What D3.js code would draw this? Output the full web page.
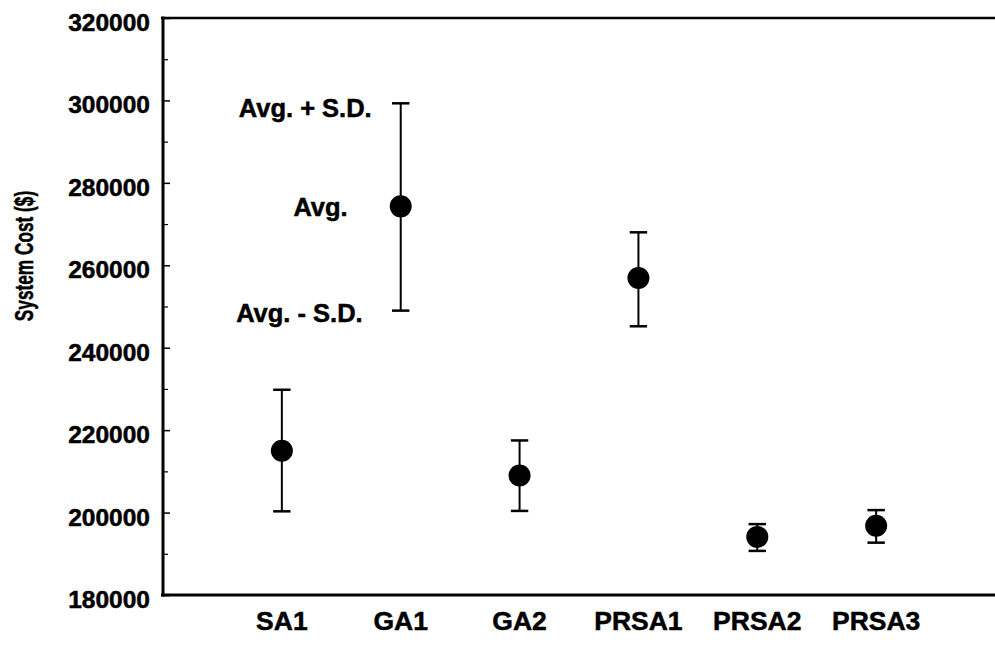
<!DOCTYPE html>
<html>
<head>
<meta charset="utf-8">
<script src="https://cdn.jsdelivr.net/npm/d3@7"></script>
<style>
  html, body { margin: 0; padding: 0; background: #fff; }
  svg { display: block; }
  text { font-family: "Liberation Sans", Arial, Helvetica, sans-serif; font-weight: bold; fill: #000; stroke: #000; stroke-width: 0.5px; }
</style>
</head>
<body>
<svg id="chart" width="995" height="647"></svg>
<script>
const categories = ["SA1", "GA1", "GA2", "PRSA1", "PRSA2", "PRSA3"];
const avgValues   = [215000, 274300, 209000, 256900, 194100, 196800];
const upperValues = [229800, 299300, 217500, 268000, 197200, 200600];
const lowerValues = [200300, 249000, 200400, 245200, 190700, 192700];
const yTicks = [180000, 200000, 220000, 240000, 260000, 280000, 300000, 320000];
const yMinorTicks = [190000, 210000, 230000, 250000, 270000, 290000, 310000];
const annotations = ["Avg. + S.D.", "Avg.", "Avg. - S.D."];

const mLeft = 163, mRight = 995, mTop = 18, mBottom = 595;

const svg = d3.select("#chart");

const x = d3.scalePoint().domain(categories).range([mLeft, mRight]).padding(1);
const y = d3.scaleLinear().domain([180000, 320000]).range([mBottom, mTop]);

// frame lines
svg.append("line").attr("x1", mLeft - 2).attr("x2", mRight).attr("y1", mTop).attr("y2", mTop)
  .attr("stroke", "#000").attr("stroke-width", 2.5);
svg.append("line").attr("x1", mLeft - 2).attr("x2", mRight).attr("y1", mBottom).attr("y2", mBottom)
  .attr("stroke", "#000").attr("stroke-width", 3);

// y axis
const yAxis = d3.axisRight(y).tickValues(yTicks).tickSize(7).tickFormat("");
const gy = svg.append("g").attr("transform", `translate(${mLeft},0)`).call(yAxis);
gy.select(".domain").remove();
gy.selectAll(".tick line").attr("stroke", "#000").attr("stroke-width", 1.5);
const yAxisMinor = d3.axisRight(y).tickValues(yMinorTicks).tickSize(5).tickFormat("");
const gym = svg.append("g").attr("transform", `translate(${mLeft},0)`).call(yAxisMinor);
gym.select(".domain").remove();
gym.selectAll(".tick line").attr("stroke", "#000").attr("stroke-width", 1.2);
svg.append("line").attr("x1", mLeft).attr("x2", mLeft).attr("y1", mTop - 1.5).attr("y2", mBottom + 1.5)
  .attr("stroke", "#000").attr("stroke-width", 3);

// y tick labels
svg.append("g").selectAll("text").data(yTicks).join("text")
  .attr("x", 150).attr("y", d => y(d) + 13)
  .attr("text-anchor", "end").attr("font-size", 24.5)
  .text(d => d3.format("d")(d));

// y axis title
svg.append("text")
  .attr("transform", "translate(33,256) rotate(-90) scale(0.69,1)")
  .attr("text-anchor", "middle").attr("font-size", 25)
  .text("System Cost ($)");

// x labels
svg.append("g").selectAll("text").data(categories).join("text")
  .attr("x", d => x(d)).attr("y", 630)
  .attr("text-anchor", "middle").attr("font-size", 26.5)
  .text(d => d);

// error bars
const data = categories.map((c, i) => ({ c, avg: avgValues[i], up: upperValues[i], lo: lowerValues[i] }));
const g = svg.append("g");
const capHalf = 8.7;
g.selectAll("line.err").data(data).join("line").attr("class", "err")
  .attr("x1", d => x(d.c)).attr("x2", d => x(d.c))
  .attr("y1", d => y(d.up)).attr("y2", d => y(d.lo))
  .attr("stroke", "#000").attr("stroke-width", 2);
g.selectAll("line.capu").data(data).join("line").attr("class", "capu")
  .attr("x1", d => x(d.c) - capHalf).attr("x2", d => x(d.c) + capHalf)
  .attr("y1", d => y(d.up)).attr("y2", d => y(d.up))
  .attr("stroke", "#000").attr("stroke-width", 2.5);
g.selectAll("line.capl").data(data).join("line").attr("class", "capl")
  .attr("x1", d => x(d.c) - capHalf).attr("x2", d => x(d.c) + capHalf)
  .attr("y1", d => y(d.lo)).attr("y2", d => y(d.lo))
  .attr("stroke", "#000").attr("stroke-width", 2.5);
g.selectAll("circle").data(data).join("circle")
  .attr("cx", d => x(d.c)).attr("cy", d => y(d.avg)).attr("r", 11)
  .attr("fill", "#000");

// annotations next to GA1
const ref = data[1];
const annY = [y(ref.up) + 14, y(ref.avg) + 10, y(ref.lo) + 11];
const annDx = [-29, -53, -38];
svg.append("g").selectAll("text").data(annotations).join("text")
  .attr("x", (d, i) => x(ref.c) + annDx[i]).attr("y", (d, i) => annY[i])
  .attr("text-anchor", "end").attr("font-size", 25.5)
  .text(d => d);
</script>
</body>
</html>
